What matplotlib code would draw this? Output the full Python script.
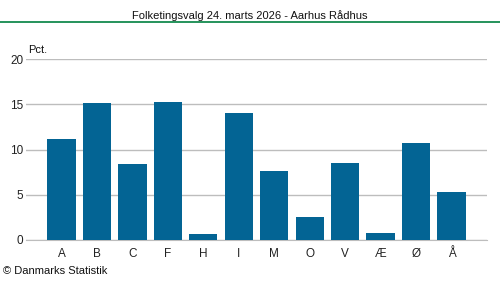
import matplotlib.pyplot as plt
from matplotlib.lines import Line2D

plt.rcParams['font.family'] = ['Liberation Sans', 'DejaVu Sans']

parties = ['A', 'B', 'C', 'F', 'H', 'I', 'M', 'O', 'V', 'Æ', 'Ø', 'Å']
pct = [11.2, 15.2, 8.4, 15.3, 0.7, 14.0, 7.6, 2.5, 8.5, 0.8, 10.7, 5.3]
yticks = [0, 5, 10, 15, 20]

fig = plt.figure(figsize=(5, 2.82), dpi=100)
ax = fig.add_axes([0.052, 0.149, 0.922, 0.641])

ax.bar(range(len(parties)), pct, width=0.8, color='#036494', zorder=3)
ax.set_xlim(-1, len(parties))
ax.set_ylim(0, 20)
ax.set_yticks(yticks)
ax.set_xticks(range(len(parties)))
ax.set_xticklabels(parties)
ax.grid(axis='y', color='#bdbdbd', linewidth=1, zorder=0)
for s in ['top', 'right', 'left']:
    ax.spines[s].set_visible(False)
ax.spines['bottom'].set_color('#bdbdbd')
ax.tick_params(axis='both', length=0, labelsize=8.5, colors='#222222')
ax.tick_params(axis='x', pad=6)
ax.tick_params(axis='y', pad=2)

fig.text(0.5, 0.945, 'Folketingsvalg 24. marts 2026 - Aarhus Rådhus', ha='center', va='center', fontsize=8, color='#111111')
fig.add_artist(Line2D([0, 1], [0.922, 0.922], color='#008040', linewidth=1.2, transform=fig.transFigure))
fig.text(0.056, 0.822, 'Pct.', ha='left', va='center', fontsize=8, color='#111111')
fig.text(0.006, 0.038, '© Danmarks Statistik', ha='left', va='center', fontsize=8, color='#111111')

fig.savefig('out.png', dpi=100)
